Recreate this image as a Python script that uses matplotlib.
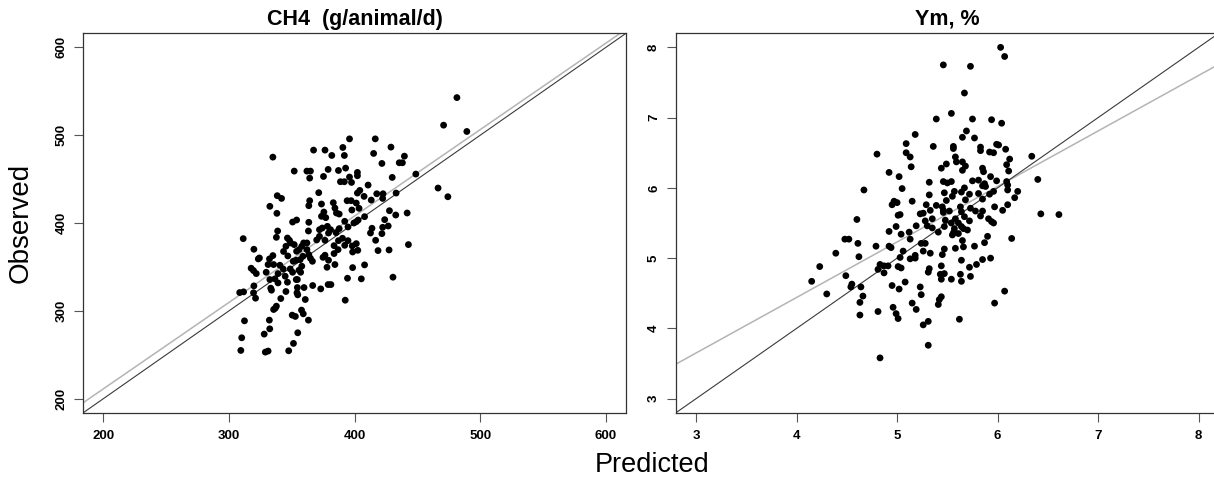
"""
Observed vs predicted scatter: CH4 (g/animal/d) and Ym (%)
"""

import numpy as np
import matplotlib
matplotlib.use("Agg")
import matplotlib.pyplot as plt

# --- CH4 panel (predicted, observed) ---
ch4_pred = [
    481.4, 470.8, 489.3, 395.9, 416.4, 428.9, 390.6, 367.3, 376.4, 439.6,
    334.9, 381.8, 391.8, 415.1, 435.5, 438.0, 421.7, 392.8, 378.9, 351.9,
    362.0, 364.8, 387.1, 402.2, 402.2, 375.2, 364.2, 429.9, 448.7, 395.9,
    388.7, 391.8, 397.5, 410.7, 466.4, 474.2, 404.1, 402.2, 371.4, 433.0,
    417.6, 422.6, 413.2, 422.3, 338.4, 341.8, 364.2, 394.0, 397.2, 401.3,
    383.0, 373.6, 363.5, 332.5, 384.3, 427.7, 403.5, 397.8, 375.5, 385.5,
    387.7, 373.6, 338.1, 441.8, 432.7, 407.9, 377.0, 401.3, 423.9, 353.8,
    350.6, 363.5, 392.1, 402.8, 399.4, 394.7, 378.3, 374.2, 380.8, 363.2,
    372.0, 387.7, 413.8, 422.3, 426.7, 338.7, 385.2, 412.6, 421.7, 372.0,
    337.7, 346.5, 348.1, 311.3, 376.4, 394.7, 416.7, 442.8, 349.1, 351.9,
    359.4, 362.0, 401.3, 392.1, 383.6, 398.1, 357.9, 345.3, 319.8, 343.4,
    353.8, 355.7, 362.0, 386.8, 418.6, 427.4, 398.4, 383.6, 376.4, 363.5,
    324.2, 323.3, 332.2, 334.9, 346.8, 358.8, 364.8, 374.8, 351.1, 353.3,
    356.6, 366.4, 331.1, 335.5, 340.5, 343.1, 348.7, 357.9, 379.2, 384.3,
    407.9, 398.4, 378.0, 317.6, 319.5, 321.7, 329.6, 339.0, 350.6, 355.7,
    344.7, 357.0, 394.3, 405.3, 430.5, 353.5, 332.5, 336.5, 339.0, 346.5,
    354.4, 359.7, 366.6, 373.0, 378.9, 381.1, 319.8, 333.2, 333.8, 345.3,
    354.4, 354.1, 354.7, 308.5, 311.6, 319.5, 321.1, 341.2, 360.7, 392.5,
    335.5, 336.8, 337.7, 357.7, 359.1, 350.3, 352.8, 312.3, 332.1, 363.2,
    332.4, 328.0, 354.7, 310.1, 351.3, 309.4, 328.9, 331.1, 347.5, 402.5,
    387.1, 379.2, 369.8, 390.3, 407.5,
]
ch4_obs = [
    542.8, 511.4, 504.2, 495.8, 495.8, 486.4, 486.0, 483.0, 483.0, 476.1,
    475.0, 476.9, 476.9, 479.2, 468.6, 468.6, 467.8, 462.5, 461.0, 459.1,
    459.1, 459.1, 459.8, 457.6, 453.8, 453.0, 451.1, 451.9, 455.7, 452.3,
    447.0, 447.0, 446.2, 443.2, 439.8, 429.9, 437.1, 434.1, 434.5, 434.1,
    433.3, 433.3, 426.1, 428.0, 431.1, 428.0, 425.4, 425.4, 425.4, 422.7,
    423.1, 421.6, 419.7, 419.0, 417.0, 414.0, 416.7, 414.8, 412.5, 411.4,
    410.2, 407.6, 411.0, 411.4, 409.1, 407.2, 406.1, 401.5, 403.8, 403.4,
    401.1, 400.8, 401.9, 403.4, 400.0, 395.5, 396.2, 394.3, 392.4, 390.9,
    392.4, 393.6, 394.0, 395.1, 396.6, 390.9, 389.0, 388.6, 387.9, 384.8,
    383.7, 382.9, 380.3, 382.2, 380.3, 379.9, 380.3, 375.4, 377.3, 375.4,
    377.3, 377.3, 376.5, 374.6, 374.2, 373.9, 373.5, 373.5, 370.1, 367.6,
    367.8, 369.7, 369.7, 369.7, 368.6, 369.3, 367.0, 365.2, 363.3, 364.0,
    360.2, 359.1, 359.1, 362.9, 362.5, 362.1, 359.8, 360.9, 356.4, 357.6,
    358.3, 356.4, 352.7, 352.7, 351.9, 347.7, 347.7, 350.8, 357.6, 352.7,
    352.3, 349.2, 349.6, 348.5, 345.8, 342.4, 343.9, 342.4, 343.9, 346.2,
    339.4, 343.9, 337.1, 336.4, 338.3, 335.6, 335.6, 336.4, 331.8, 332.6,
    335.6, 326.5, 328.8, 325.0, 329.9, 329.9, 328.4, 325.8, 323.5, 322.0,
    326.5, 320.5, 318.2, 320.8, 321.6, 320.5, 314.4, 314.0, 312.9, 312.1,
    301.5, 303.0, 305.3, 300.8, 296.6, 295.1, 293.6, 288.6, 289.4, 289.4,
    279.5, 273.5, 275.0, 269.3, 262.9, 254.9, 253.0, 254.2, 254.5, 368.9,
    379.9, 388.6, 380.7, 382.6, 430.3,
]
ch4_fit = (14.4, 0.984)  # intercept, slope of the grey regression line

# --- Ym panel (predicted, observed) ---
ym_pred = [
    6.03, 6.07, 5.46, 5.73, 5.67, 5.54, 5.39, 5.75, 5.94, 6.04,
    5.69, 5.18, 5.77, 5.65, 5.09, 5.36, 5.56, 5.56, 5.83, 5.83,
    5.99, 6.01, 6.08, 5.92, 5.96, 5.09, 4.80, 5.13, 5.58, 6.34,
    6.12, 5.59, 5.65, 5.49, 5.68, 6.09, 5.14, 5.44, 5.85, 5.86,
    6.11, 4.92, 5.65, 5.02, 5.93, 6.40, 5.81, 5.75, 5.46, 5.54,
    5.32, 5.50, 5.87, 5.99, 6.09, 6.10, 5.88, 5.85, 5.67, 6.10,
    5.05, 4.67, 6.20, 5.57, 5.47, 5.64, 5.72, 5.92, 5.96, 5.81,
    5.55, 5.32, 6.17, 5.85, 5.68, 5.49, 5.15, 4.97, 5.00, 4.95,
    5.29, 5.39, 6.10, 5.97, 5.63, 5.45, 5.33, 5.46, 5.73, 5.78,
    6.05, 5.52, 5.64, 5.85, 5.03, 5.01, 5.23, 5.26, 6.43, 6.61,
    5.83, 5.46, 5.67, 4.60, 5.35, 5.48, 5.58, 5.91, 5.28, 5.72,
    5.94, 5.96, 5.54, 5.61, 5.19, 5.30, 5.47, 5.64, 5.35, 4.99,
    5.57, 5.66, 5.70, 5.56, 4.92, 5.41, 5.12, 5.61, 5.55, 5.04,
    5.90, 4.48, 4.52, 5.13, 6.14, 5.65, 5.87, 4.61, 5.24, 5.28,
    4.79, 5.66, 5.77, 4.92, 4.94, 5.58, 5.47, 5.06, 5.26, 5.33,
    4.39, 5.45, 5.18, 4.62, 5.03, 5.13, 5.18, 5.93, 5.85, 5.64,
    4.23, 4.83, 4.87, 4.91, 5.01, 5.04, 5.44, 5.72, 5.79, 4.81,
    4.87, 5.32, 5.31, 5.43, 5.47, 5.63, 4.49, 5.73, 5.44, 5.54,
    4.15, 5.64, 5.08, 4.55, 4.95, 4.64, 4.54, 5.02, 5.23, 6.07,
    4.30, 5.24, 4.66, 5.44, 5.42, 5.41, 5.97, 4.63, 5.15, 4.96,
    5.19, 4.99, 4.81, 4.63, 5.01, 5.62, 5.31, 5.26, 5.31, 4.83,
]
ym_obs = [
    8.00, 7.87, 7.75, 7.73, 7.35, 7.06, 6.98, 6.98, 6.97, 6.92,
    6.81, 6.76, 6.71, 6.72, 6.63, 6.59, 6.59, 6.56, 6.58, 6.53,
    6.62, 6.61, 6.55, 6.51, 6.50, 6.50, 6.48, 6.44, 6.44, 6.45,
    6.41, 6.37, 6.37, 6.34, 6.31, 6.33, 6.30, 6.28, 6.28, 6.23,
    6.24, 6.22, 6.25, 6.16, 6.16, 6.12, 6.11, 6.10, 6.09, 6.09,
    6.08, 6.07, 6.06, 6.10, 6.09, 6.04, 6.02, 6.03, 6.00, 5.97,
    5.99, 5.97, 5.95, 5.95, 5.93, 5.94, 5.91, 5.91, 5.95, 5.92,
    5.88, 5.90, 5.86, 5.84, 5.83, 5.82, 5.81, 5.81, 5.79, 5.76,
    5.76, 5.75, 5.76, 5.73, 5.73, 5.73, 5.68, 5.68, 5.71, 5.67,
    5.68, 5.67, 5.66, 5.67, 5.62, 5.61, 5.63, 5.64, 5.63, 5.62,
    5.60, 5.65, 5.59, 5.55, 5.56, 5.54, 5.56, 5.56, 5.53, 5.53,
    5.52, 5.50, 5.50, 5.50, 5.46, 5.46, 5.45, 5.45, 5.43, 5.45,
    5.42, 5.42, 5.40, 5.36, 5.38, 5.37, 5.37, 5.35, 5.33, 5.34,
    5.31, 5.27, 5.27, 5.27, 5.28, 5.25, 5.22, 5.21, 5.21, 5.21,
    5.17, 5.16, 5.17, 5.17, 5.15, 5.14, 5.13, 5.10, 5.10, 5.07,
    5.07, 5.05, 5.04, 5.02, 5.01, 4.99, 5.00, 5.00, 4.98, 4.97,
    4.88, 4.91, 4.89, 4.89, 4.88, 4.86, 4.89, 4.87, 4.91, 4.84,
    4.79, 4.85, 4.80, 4.77, 4.78, 4.77, 4.75, 4.74, 4.70, 4.70,
    4.67, 4.67, 4.66, 4.63, 4.61, 4.59, 4.59, 4.56, 4.59, 4.53,
    4.49, 4.48, 4.46, 4.45, 4.41, 4.34, 4.36, 4.37, 4.36, 4.30,
    4.27, 4.21, 4.24, 4.19, 4.14, 4.13, 4.10, 4.05, 3.76, 3.58,
]
ym_fit = (1.28, 0.79)

panels = [
    ("CH4  (g/animal/d)", ch4_pred, ch4_obs, ch4_fit, [200, 300, 400, 500, 600]),
    ("Ym, %", ym_pred, ym_obs, ym_fit, [3, 4, 5, 6, 7, 8]),
]

plt.rcParams['font.family'] = ['Liberation Sans', 'DejaVu Sans']

W, H = 1214, 479
fig = plt.figure(figsize=(W / 100, H / 100), dpi=100)

ax_w = 542.7 / W
ax_h = 379.4 / H
ax_bottom = 1 - 412.7 / H
lefts = [83.3 / W, 676 / W]

for left, (title, pred, obs, fit, ticks) in zip(lefts, panels):
    ax = fig.add_axes([left, ax_bottom, ax_w, ax_h])
    span = ticks[-1] - ticks[0]
    lim = (ticks[0] - 0.04 * span, ticks[-1] + 0.04 * span)
    ax.set_xlim(lim)
    ax.set_ylim(lim)

    ax.axline((ticks[0], ticks[0]), slope=1, color='#3a3a3a', lw=0.8, zorder=2)
    ax.axline((0, fit[0]), slope=fit[1], color='#b4b4b4', lw=1.1, zorder=1)
    ax.scatter(pred, obs, s=24, color='black', edgecolors='none', zorder=3)

    ax.set_xticks(ticks)
    ax.set_yticks(ticks)
    ax.set_xticklabels([str(t) for t in ticks], fontsize=9.5, fontweight='bold')
    ax.set_yticklabels([str(t) for t in ticks], fontsize=9.5, fontweight='bold',
                       rotation=90, va='center')
    ax.tick_params(axis='x', length=6.5, width=0.8, color='#555555', pad=6)
    ax.tick_params(axis='y', length=6.5, width=0.8, color='#555555', pad=5)
    for sp in ax.spines.values():
        sp.set_color('#333333')
        sp.set_linewidth(0.9)

    ax.set_title(title, fontsize=15.5, fontweight='bold', pad=6)

fig.text(21 / W, 1 - 223 / H, "Observed", rotation=90, fontsize=20,
         ha='center', va='center')
fig.text(652 / W, 1 / H, "Predicted", fontsize=19.5, ha='center', va='bottom')

fig.savefig("out.png", dpi=100)
